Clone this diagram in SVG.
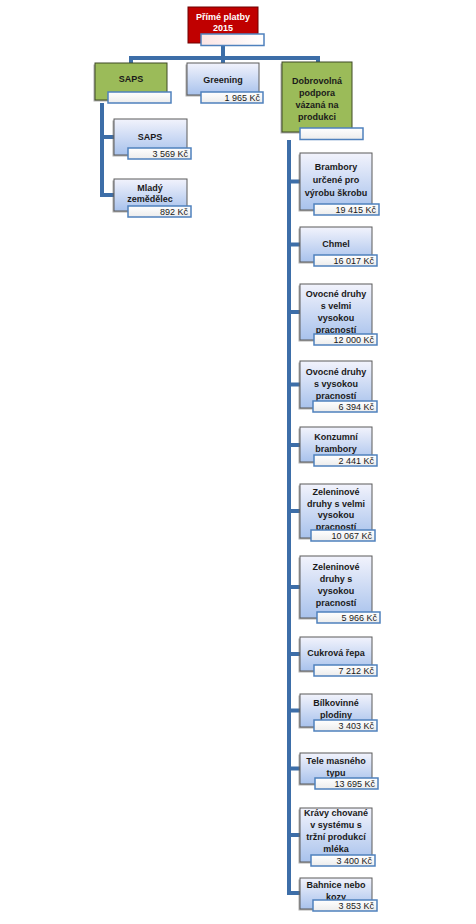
<svg xmlns="http://www.w3.org/2000/svg" width="476" height="924" viewBox="0 0 476 924">
<style>
.t{font-family:"Liberation Sans",Arial,sans-serif;font-weight:bold;font-size:9px;fill:#1a1a1a;text-anchor:middle}
.tw{fill:#fff}
.v{font-family:"Liberation Sans",Arial,sans-serif;font-size:9px;fill:#1a1a1a;text-anchor:end}
.box{fill:url(#gb);stroke:#5a5a5a;stroke-width:1}
.grn{fill:#9bbb59;stroke:#3f4a26;stroke-width:1}
.red{fill:#c00000;stroke:#6e0000;stroke-width:1}
.sh{fill:#6f6f6f;opacity:0.55}
.val{fill:url(#gv);stroke:#4f81bd;stroke-width:1.5}
.valr{fill:url(#gr);stroke:#4f81bd;stroke-width:1.5}
.c{stroke:#3d6ea8;stroke-width:4;fill:none;stroke-linejoin:miter}
</style>
<defs>
<linearGradient id="gb" x1="0" y1="0" x2="0" y2="1"><stop offset="0" stop-color="#f2f3fc"/><stop offset="1" stop-color="#a8c2ec"/></linearGradient>
<linearGradient id="gv" x1="0" y1="0" x2="0" y2="1"><stop offset="0" stop-color="#ffffff"/><stop offset="1" stop-color="#ececec"/></linearGradient>
<linearGradient id="gr" x1="0" y1="0" x2="1" y2="0"><stop offset="0" stop-color="#fbe4e4"/><stop offset="1" stop-color="#ffffff"/></linearGradient>
</defs>
<rect width="476" height="924" fill="#fff"/>
<g id="connectors">
<path class="c" d="M223 46V58M131 65V58H318V64M223 58V64"/>
<path class="c" d="M102 103V195H114M102 137H114"/>
<path class="c" d="M289 140V893H300M289 181.5H300M289 244.5H300M289 312H300M289 384.5H300M289 445H300M289 511H300M289 587H300M289 654H300M289 710.5H300M289 768.5H300M289 835H300"/>
</g>
<g id="n0"><rect class="red" x="188" y="7" width="70" height="36"/><text class="t tw" x="223" y="19.5">Přímé platby</text><text class="t tw" x="223" y="30.5">2015</text><rect class="valr" x="201" y="34" width="63" height="11.5"/></g>
<g id="n1"><rect class="sh" x="93.5" y="64.5" width="72" height="37"/><rect class="grn" x="95" y="63" width="72" height="37"/><text class="t" x="131" y="81.5">SAPS</text><rect class="val" x="108" y="92" width="63" height="11"/></g>
<g id="n2"><rect class="sh" x="185.5" y="64.5" width="72" height="32"/><rect class="box" x="187" y="63" width="72" height="32"/><text class="t" x="223" y="82.5">Greening</text><rect class="val" x="201" y="92" width="62" height="11"/><text class="v" x="260" y="101">1 965 Kč</text></g>
<g id="n3"><rect class="sh" x="280.5" y="63.5" width="70" height="70"/><rect class="grn" x="282" y="62" width="70" height="70"/><text class="t" x="317" y="83.5">Dobrovolná</text><text class="t" x="317" y="95.5">podpora</text><text class="t" x="317" y="107.5">vázaná na</text><text class="t" x="317" y="119.5">produkci</text><rect class="val" x="300" y="128" width="63" height="11.5"/></g>
<g id="n4"><rect class="sh" x="112.5" y="120.5" width="73" height="36"/><rect class="box" x="114" y="119" width="73" height="36"/><text class="t" x="150" y="139.5">SAPS</text><rect class="val" x="128" y="148" width="63" height="11"/><text class="v" x="188" y="157">3 569 Kč</text></g>
<g id="n5"><rect class="sh" x="112.5" y="180.5" width="73" height="32"/><rect class="box" x="114" y="179" width="73" height="32"/><text class="t" x="150" y="190.5">Mladý</text><text class="t" x="150" y="202">zemědělec</text><rect class="val" x="128" y="206" width="63" height="11"/><text class="v" x="188" y="215">892 Kč</text></g>
<g id="n6"><rect class="sh" x="298.5" y="154.5" width="72" height="57"/><rect class="box" x="300" y="153" width="72" height="57"/><text class="t" x="336" y="170">Brambory</text><text class="t" x="336" y="183">určené pro</text><text class="t" x="336" y="196">výrobu škrobu</text><rect class="val" x="314" y="204" width="65" height="11"/><text class="v" x="376" y="213">19 415 Kč</text></g>
<g id="n7"><rect class="sh" x="298.5" y="228.5" width="72" height="35"/><rect class="box" x="300" y="227" width="72" height="35"/><text class="t" x="336" y="246.5">Chmel</text><rect class="val" x="314" y="255" width="63" height="11"/><text class="v" x="374" y="264">16 017 Kč</text></g>
<g id="n8"><rect class="sh" x="298.5" y="285.5" width="72" height="56"/><rect class="box" x="300" y="284" width="72" height="56"/><text class="t" x="336" y="297">Ovocné druhy</text><text class="t" x="336" y="309">s velmi</text><text class="t" x="336" y="321">vysokou</text><text class="t" x="336" y="332.5">pracností</text><rect class="val" x="314" y="334" width="63" height="11"/><text class="v" x="374" y="343">12 000 Kč</text></g>
<g id="n9"><rect class="sh" x="298.5" y="362.5" width="72" height="47"/><rect class="box" x="300" y="361" width="72" height="47"/><text class="t" x="336" y="375">Ovocné druhy</text><text class="t" x="336" y="387">s vysokou</text><text class="t" x="336" y="399">pracností</text><rect class="val" x="313" y="401" width="64" height="11"/><text class="v" x="374" y="410">6 394 Kč</text></g>
<g id="n10"><rect class="sh" x="298.5" y="428.5" width="72" height="35"/><rect class="box" x="300" y="427" width="72" height="35"/><text class="t" x="336" y="440">Konzumní</text><text class="t" x="336" y="452">brambory</text><rect class="val" x="314" y="455" width="63" height="11"/><text class="v" x="374" y="464">2 441 Kč</text></g>
<g id="n11"><rect class="sh" x="298.5" y="485.5" width="72" height="54"/><rect class="box" x="300" y="484" width="72" height="54"/><text class="t" x="336" y="495">Zeleninové</text><text class="t" x="336" y="506.5">druhy s velmi</text><text class="t" x="336" y="518">vysokou</text><text class="t" x="336" y="529.5">pracností</text><rect class="val" x="311" y="530" width="64" height="11"/><text class="v" x="372" y="539">10 067 Kč</text></g>
<g id="n12"><rect class="sh" x="298.5" y="557.5" width="72" height="62"/><rect class="box" x="300" y="556" width="72" height="62"/><text class="t" x="336" y="570">Zeleninové</text><text class="t" x="336" y="582">druhy s</text><text class="t" x="336" y="594">vysokou</text><text class="t" x="336" y="606">pracností</text><rect class="val" x="317" y="612" width="63" height="11"/><text class="v" x="377" y="621">5 966 Kč</text></g>
<g id="n13"><rect class="sh" x="298.5" y="638.5" width="72" height="34"/><rect class="box" x="300" y="637" width="72" height="34"/><text class="t" x="336" y="655.5">Cukrová řepa</text><rect class="val" x="314" y="665" width="63" height="11"/><text class="v" x="374" y="674">7 212 Kč</text></g>
<g id="n14"><rect class="sh" x="298.5" y="695.5" width="72" height="33"/><rect class="box" x="300" y="694" width="72" height="33"/><text class="t" x="336" y="706">Bílkovinné</text><text class="t" x="336" y="718">plodiny</text><rect class="val" x="314" y="720" width="63" height="11"/><text class="v" x="374" y="729">3 403 Kč</text></g>
<g id="n15"><rect class="sh" x="298.5" y="754.5" width="72" height="31"/><rect class="box" x="300" y="753" width="72" height="31"/><text class="t" x="336" y="764">Tele masného</text><text class="t" x="336" y="776">typu</text><rect class="val" x="315" y="778" width="63" height="11"/><text class="v" x="375" y="787">13 695 Kč</text></g>
<g id="n16"><rect class="sh" x="298.5" y="809.5" width="72" height="54"/><rect class="box" x="300" y="808" width="72" height="54"/><text class="t" x="336" y="816">Krávy chované</text><text class="t" x="336" y="828">v systému s</text><text class="t" x="336" y="840">tržní produkcí</text><text class="t" x="336" y="852">mléka</text><rect class="val" x="311" y="855" width="64" height="11"/><text class="v" x="372" y="864">3 400 Kč</text></g>
<g id="n17"><rect class="sh" x="298.5" y="879.5" width="72" height="31"/><rect class="box" x="300" y="878" width="72" height="31"/><text class="t" x="336" y="888">Bahnice nebo</text><text class="t" x="336" y="900">kozy</text><rect class="val" x="313" y="900" width="64" height="11"/><text class="v" x="374" y="909">3 853 Kč</text></g>
</svg>
